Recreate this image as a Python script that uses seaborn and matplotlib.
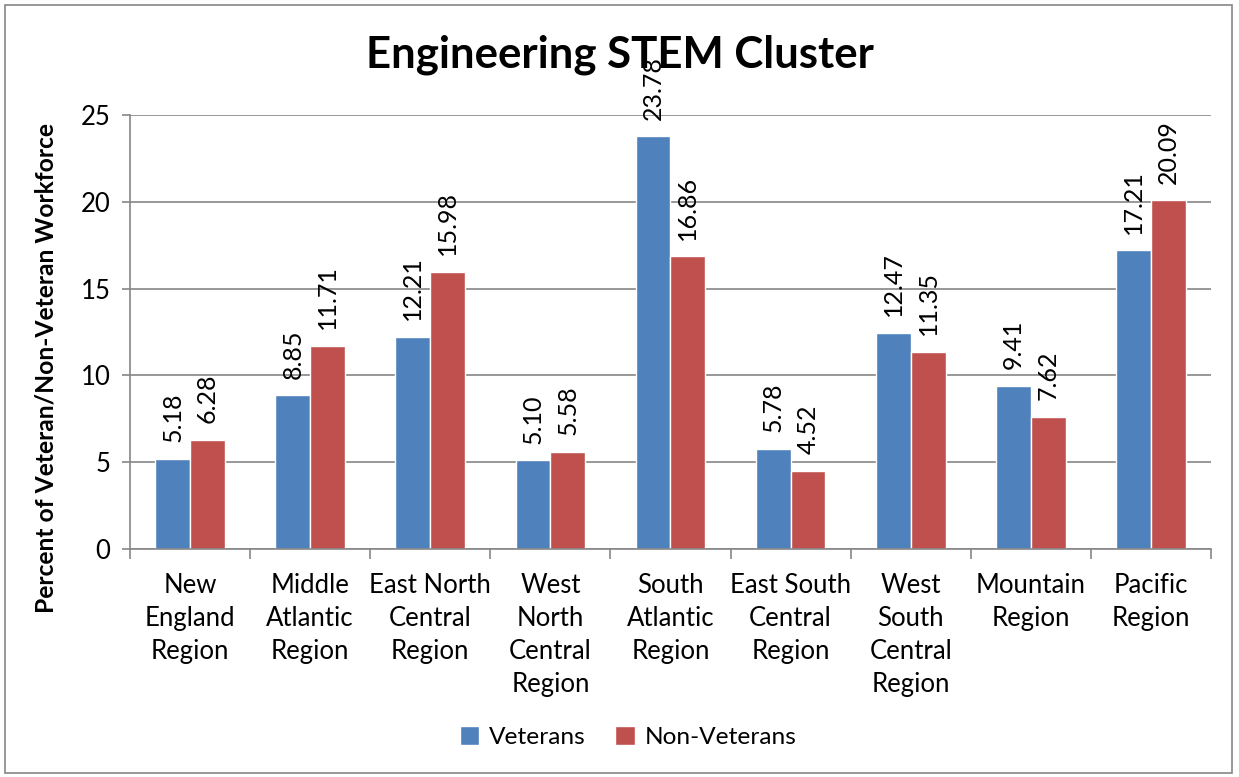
import matplotlib
matplotlib.use("Agg")
import matplotlib.pyplot as plt
import seaborn as sns
import pandas as pd
import numpy as np
from matplotlib.patches import Rectangle

categories = ["New\nEngland\nRegion", "Middle\nAtlantic\nRegion", "East North\nCentral\nRegion",
              "West\nNorth\nCentral\nRegion", "South\nAtlantic\nRegion", "East South\nCentral\nRegion",
              "West\nSouth\nCentral\nRegion", "Mountain\nRegion", "Pacific\nRegion"]
veterans = [5.18, 8.85, 12.21, 5.10, 23.78, 5.78, 12.47, 9.41, 17.21]
non_veterans = [6.28, 11.71, 15.98, 5.58, 16.86, 4.52, 11.35, 7.62, 20.09]
series = ["Veterans", "Non-Veterans"]
colors = ["#4F81BD", "#C0504D"]

df = pd.DataFrame({
    "Region": categories * 2,
    "Value": veterans + non_veterans,
    "Series": [series[0]] * len(categories) + [series[1]] * len(categories),
})

sns.set_theme(style="white")
plt.rcParams['font.family'] = ['Lato', 'DejaVu Sans']
plt.rcParams['text.color'] = 'black'
plt.rcParams['axes.labelcolor'] = 'black'
plt.rcParams['xtick.color'] = 'black'
plt.rcParams['ytick.color'] = 'black'

fig = plt.figure(figsize=(12.39, 7.77), dpi=100)
ax = fig.add_axes([130 / 1239, 1 - 549 / 777, (1211 - 130) / 1239, (549 - 115) / 777])

sns.barplot(data=df, x="Region", y="Value", hue="Series", palette=colors,
            width=0.58, ax=ax, saturation=1, legend=True)

ax.set_ylim(0, 25)
ax.set_xlim(-0.5, len(categories) - 0.5)
ax.set_yticks([0, 5, 10, 15, 20, 25])
ax.yaxis.grid(True, color="#868686", linewidth=1.2)
ax.set_axisbelow(True)
for s in ["top", "right"]:
    ax.spines[s].set_visible(False)
for s in ["left", "bottom"]:
    ax.spines[s].set_color("#868686")
    ax.spines[s].set_linewidth(1.2)

ax.tick_params(axis="y", labelsize=18.5, length=6, color="#868686", left=True, width=1.2, pad=8,
               labelcolor="black")
ax.set_xticks(range(len(categories)))
ax.set_xticklabels(categories, fontsize=18.5, linespacing=1.4, va="top", color="black")
ax.tick_params(axis="x", length=0, pad=17)
ax.set_xticks(np.arange(-0.5, len(categories), 1), minor=True)
ax.tick_params(axis="x", which="minor", length=7, color="#868686", width=1.2, bottom=True)

ax.set_xlabel("")
ax.set_ylabel("Percent of Veteran/Non-Veteran Workforce", fontsize=17.7, fontweight="bold",
              color="black")
ax.yaxis.set_label_coords((58 - 130) / 1081, (549 - 368) / 434)
fig.text(0.5, 1 - 55 / 777, "Engineering STEM Cluster", ha="center", va="center",
         fontsize=31.5, fontweight="bold", color="black")

for cont in ax.containers:
    ax.bar_label(cont, fmt="%.2f", rotation=90, padding=12, fontsize=18, color="black")

leg = ax.legend(loc="center", bbox_to_anchor=(628 / 1239, 1 - 737 / 777),
                bbox_transform=fig.transFigure, ncol=2, frameon=False, fontsize=17.6,
                handlelength=0.8, handleheight=0.8, columnspacing=1.2, handletextpad=0.4)
for t in leg.get_texts():
    t.set_color("black")

fig.patches.append(Rectangle((5 / 1239, 4 / 777), 1227 / 1239, 768 / 777, transform=fig.transFigure,
                             fill=False, edgecolor="#868686", linewidth=1.2))

fig.savefig("out.png", dpi=100)
